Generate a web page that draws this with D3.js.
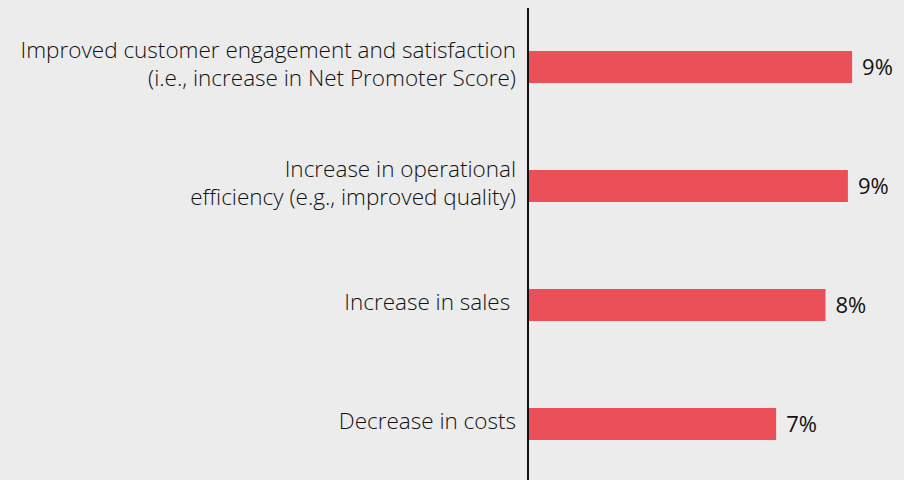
<!DOCTYPE html>
<html>
<head>
<meta charset="utf-8">
<script src="https://cdn.jsdelivr.net/npm/d3@7"></script>
<style>
  html, body { margin: 0; padding: 0; background: #ececec; }
  svg { display: block; }
</style>
</head>
<body>
<svg id="chart" width="904" height="480"></svg>
<script>
const categories = [
  ["Improved customer engagement and satisfaction", "(i.e., increase in Net Promoter Score)"],
  ["Increase in operational", "efficiency (e.g., improved quality)"],
  ["Increase in sales "],
  ["Decrease in costs"]
];
const values = [9.26, 9.14, 8.5, 7.09];
const valueLabels = ["9%", "9%", "8%", "7%"];

const W = 904, H = 480;
const svg = d3.select("#chart");
svg.append("rect").attr("width", W).attr("height", H).attr("fill", "#ececec");

const x = d3.scaleLinear().domain([0, 10]).range([528, 878]);
const y = d3.scaleBand().domain(d3.range(categories.length))
  .range([-8.5, 499.5]).paddingInner(0.731).paddingOuter(0.5);

svg.selectAll("rect.bar").data(values).join("rect")
  .attr("class", "bar")
  .attr("x", x(0))
  .attr("y", (d, i) => y(i))
  .attr("width", d => x(d) - x(0))
  .attr("height", y.bandwidth())
  .attr("fill", "#eb5058");

svg.selectAll("text.val").data(values).join("text")
  .attr("class", "val")
  .attr("x", d => x(d) + 10)
  .attr("y", (d, i) => y(i) + y.bandwidth() / 2 + 8)
  .attr("font-family", "'Open Sans', sans-serif")
  .attr("font-size", 22)
  .attr("fill", "#111")
  .text((d, i) => valueLabels[i]);

const labels = svg.selectAll("text.cat").data(categories).join("text")
  .attr("class", "cat")
  .attr("text-anchor", "end")
  .attr("font-family", "'Open Sans', sans-serif")
  .attr("font-weight", 300)
  .attr("font-size", 22.5)
  .attr("fill", "#111")
  .style("white-space", "pre");
labels.each(function(lines, i) {
  const c = y(i) + y.bandwidth() / 2;
  d3.select(this).selectAll("tspan").data(lines).join("tspan")
    .attr("x", 516)
    .attr("y", (l, j) => c + 5 + (j - (lines.length - 1) / 2) * 28)
    .text(l => l);
});

const axis = d3.axisLeft(y).tickSize(0).tickFormat("");
svg.append("g").attr("transform", `translate(${x(0)},0)`).call(axis)
  .call(g => g.select(".domain").attr("d", `M0,8V${H}`).attr("stroke", "#111").attr("stroke-width", 2));
</script>
</body>
</html>
